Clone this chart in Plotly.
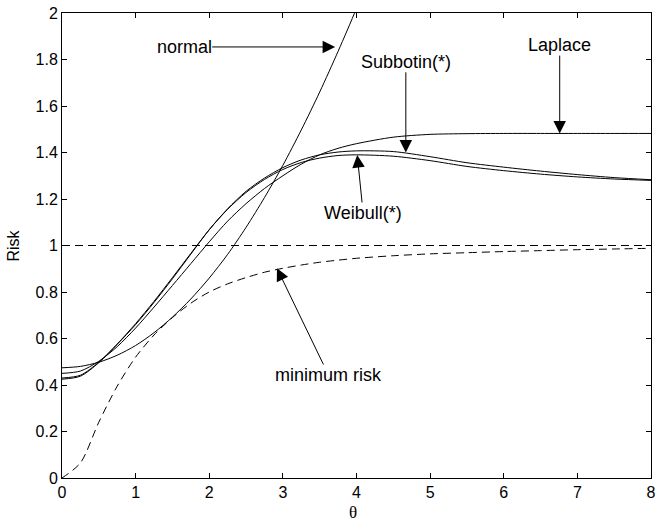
import plotly.graph_objects as go

# ---- data ----
theta = [0, 0.25, 0.5, 0.75, 1.0, 1.25, 1.5, 1.75, 2.0, 2.25, 2.5, 2.75, 3.0,
         3.25, 3.5, 3.75, 4.0, 4.5, 5.0, 5.5, 6.0, 6.5, 7.0, 7.5, 8.0]

theta_normal = [0, 0.25, 0.5, 0.75, 1.0, 1.25, 1.5, 1.75, 2.0, 2.25, 2.5, 2.75,
                3.0, 3.25, 3.5, 3.75, 4.0, 4.25]
risk_normal = [0.474, 0.480, 0.498, 0.528, 0.570, 0.625, 0.692, 0.770, 0.860,
               0.962, 1.078, 1.206, 1.345, 1.497, 1.660, 1.835, 2.02, 2.22]

risk_laplace = [0.450, 0.460, 0.502, 0.565, 0.645, 0.735, 0.828, 0.922, 1.016,
                1.105, 1.180, 1.245, 1.300, 1.350, 1.390, 1.418, 1.438, 1.466,
                1.478, 1.481, 1.482, 1.482, 1.482, 1.482, 1.482]

risk_subbotin = [0.430, 0.442, 0.498, 0.575, 0.660, 0.755, 0.857, 0.963, 1.068,
                 1.158, 1.233, 1.290, 1.335, 1.368, 1.390, 1.402, 1.407, 1.404,
                 1.382, 1.356, 1.337, 1.320, 1.305, 1.292, 1.283]

risk_weibull = [0.425, 0.438, 0.496, 0.576, 0.664, 0.760, 0.862, 0.966, 1.068,
                1.156, 1.228, 1.284, 1.327, 1.357, 1.376, 1.387, 1.390, 1.384,
                1.365, 1.340, 1.322, 1.307, 1.295, 1.286, 1.280]

risk_minimum = [0.0, 0.065, 0.240, 0.395, 0.520, 0.615, 0.690, 0.752, 0.800,
                0.835, 0.862, 0.885, 0.902, 0.916, 0.928, 0.937, 0.945, 0.956,
                0.964, 0.969, 0.974, 0.978, 0.982, 0.985, 0.988]

reference_level = 1.0

x_ticks = [0, 1, 2, 3, 4, 5, 6, 7, 8]
y_ticks = [0, 0.2, 0.4, 0.6, 0.8, 1.0, 1.2, 1.4, 1.6, 1.8, 2.0]
y_ticklabels = ["0", "0.2", "0.4", "0.6", "0.8", "1", "1.2", "1.4", "1.6", "1.8", "2"]

# ---- figure ----
FONT = "Liberation Sans, Arial, Helvetica, sans-serif"
solid = dict(color="black", width=1, shape="spline", smoothing=0.8)
dashed = dict(color="black", width=1, dash="8px,5px", shape="spline", smoothing=0.8)

fig = go.Figure()
fig.add_trace(go.Scatter(x=[theta[0], theta[-1]], y=[reference_level, reference_level],
                         mode="lines", line=dict(color="black", width=1, dash="8px,5px"),
                         showlegend=False, hoverinfo="skip"))
fig.add_trace(go.Scatter(x=theta, y=risk_minimum, mode="lines", line=dashed,
                         showlegend=False, name="minimum risk"))
fig.add_trace(go.Scatter(x=theta_normal, y=risk_normal, mode="lines", line=solid,
                         showlegend=False, name="normal"))
fig.add_trace(go.Scatter(x=theta, y=risk_laplace, mode="lines", line=solid,
                         showlegend=False, name="Laplace"))
fig.add_trace(go.Scatter(x=theta, y=risk_subbotin, mode="lines", line=solid,
                         showlegend=False, name="Subbotin(*)"))
fig.add_trace(go.Scatter(x=theta, y=risk_weibull, mode="lines", line=solid,
                         showlegend=False, name="Weibull(*)"))

def note(text, x, y, ax, ay):
    fig.add_annotation(text=text, x=x, y=y, ax=ax, ay=ay, xref="x", yref="y",
                       axref="x", ayref="y", showarrow=True, arrowhead=2,
                       arrowsize=2.5, arrowwidth=1, arrowcolor="black",
                       standoff=0, startstandoff=0, borderpad=0,
                       font=dict(family=FONT, size=18, color="black"))

note("normal", 3.71, 1.854, 1.66, 1.854)
note("Laplace", 6.76, 1.482, 6.76, 1.862)
note("Subbotin(*)", 4.67, 1.400, 4.67, 1.790)
note("Weibull(*)", 4.01, 1.389, 4.09, 1.140)
note("minimum risk", 2.92, 0.902, 3.62, 0.443)

# axis titles placed as paper annotations
fig.add_annotation(text="θ", xref="paper", yref="paper", x=0.494, y=-0.075,
                   xanchor="center", yanchor="middle", showarrow=False,
                   font=dict(family="Liberation Serif, serif", size=17, color="black"))
fig.add_annotation(text="Risk", xref="paper", yref="paper", x=-0.083, y=0.5,
                   xanchor="center", yanchor="middle", showarrow=False, textangle=-90,
                   font=dict(family=FONT, size=16, color="black"))

axis_common = dict(showgrid=False, zeroline=False, showline=True, linecolor="black",
                   linewidth=1, mirror="ticks", ticks="inside", ticklen=5,
                   tickcolor="black", tickwidth=1, automargin=False,
                   ticklabeloverflow="allow",
                   tickfont=dict(family=FONT, size=16, color="black"))

fig.update_xaxes(range=[0, 8], tickvals=x_ticks, **axis_common)
fig.update_yaxes(range=[0, 2], tickvals=y_ticks, ticktext=y_ticklabels, **axis_common)

fig.update_layout(width=655, height=522, margin=dict(l=62, r=4, t=13, b=44),
                  paper_bgcolor="white", plot_bgcolor="white",
                  font=dict(family=FONT, color="black"))

fig.write_html("out.html", config={"displayModeBar": False},
               post_script="document.body.style.margin='0';document.body.style.overflow='hidden';")
